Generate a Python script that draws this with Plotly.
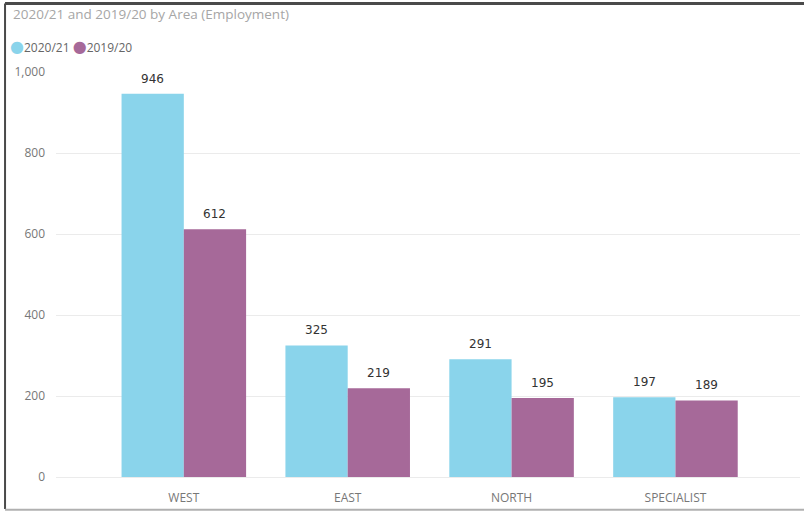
import plotly.graph_objects as go

# Employment counts by area for the two years
areas = ["WEST", "EAST", "NORTH", "SPECIALIST"]
year_2021 = [946, 325, 291, 197]
year_2020 = [612, 219, 195, 189]
series_names = ["2020/21", "2019/20"]
y_ticks = [0, 200, 400, 600, 800, 1000]

BLUE = "#8AD4EB"
PURPLE = "#A66999"
BARGAP = 0.24
half = (1 - BARGAP) / 4  # centre offset of each bar within its category

fig = go.Figure()
series = [(series_names[0], year_2021, BLUE, -half), (series_names[1], year_2020, PURPLE, half)]
for name, vals, col, _ in series:
    fig.add_trace(go.Bar(
        x=areas, y=vals, name=name,
        marker=dict(color=col, line=dict(width=0)),
        showlegend=False,
    ))

# Value labels sitting just above each bar
value_labels = []
for name, vals, col, off in series:
    for i, v in enumerate(vals):
        value_labels.append(dict(
            x=i + off, y=v, xref="x", yref="y", text=f"{v:,}", showarrow=False,
            xanchor="center", yanchor="bottom", yshift=6,
            font=dict(family="DejaVu Sans", size=12, color="#333333"),
        ))

# Panel frame: dark rule on the top and left, light rule along the bottom
frame = [
    dict(x0=-0.0685, x1=-0.0685, y0=-0.079, y1=1.169, color="#4a4a4a", width=2),
    dict(x0=-0.0685, x1=1.01, y0=1.169, y1=1.169, color="#4a4a4a", width=3),
    dict(x0=-0.0685, x1=1.01, y0=-0.081, y1=-0.081, color="#b0b0b0", width=2),
]
shapes = [dict(type="line", xref="paper", yref="paper", x0=f["x0"], x1=f["x1"],
               y0=f["y0"], y1=f["y1"], line=dict(color=f["color"], width=f["width"]))
          for f in frame]

dot = '<span style="color:{c};font-size:16px;font-family:DejaVu Sans">●</span>'
legend_text = (dot.format(c=BLUE) + series_names[0] + " "
               + dot.format(c=PURPLE) + series_names[1])

fig.update_layout(
    width=804, height=512,
    margin=dict(l=56, r=4, t=72, b=35),
    paper_bgcolor="white", plot_bgcolor="white",
    barmode="group", bargap=BARGAP, bargroupgap=0,
    font=dict(family="Open Sans", color="#777777"),
    shapes=shapes,
    annotations=value_labels + [
        dict(text="2020/21 and 2019/20 by Area (Employment)", xref="paper", yref="paper",
             x=-0.0605, y=1.143, xanchor="left", yanchor="middle", showarrow=False,
             font=dict(family="Open Sans", size=13.5, color="#a6a6a6")),
        dict(text=legend_text, xref="paper", yref="paper",
             x=-0.064, y=1.064, xanchor="left", yanchor="middle", showarrow=False,
             font=dict(family="Open Sans", size=12, color="#666666")),
    ],
    xaxis=dict(range=[-0.78, 3.76], showgrid=False, zeroline=False, showline=False,
               ticks="", ticklabelstandoff=12, tickfont=dict(size=12, color="#777777")),
    yaxis=dict(range=[0, 1000], tickvals=y_ticks, tickformat=",",
               showgrid=True, gridcolor="#ebebeb", gridwidth=1,
               zeroline=True, zerolinecolor="#ebebeb", zerolinewidth=1,
               showline=False, ticks="", ticklabelstandoff=10,
               tickfont=dict(size=12, color="#777777")),
)

fig.write_html("out.html")
